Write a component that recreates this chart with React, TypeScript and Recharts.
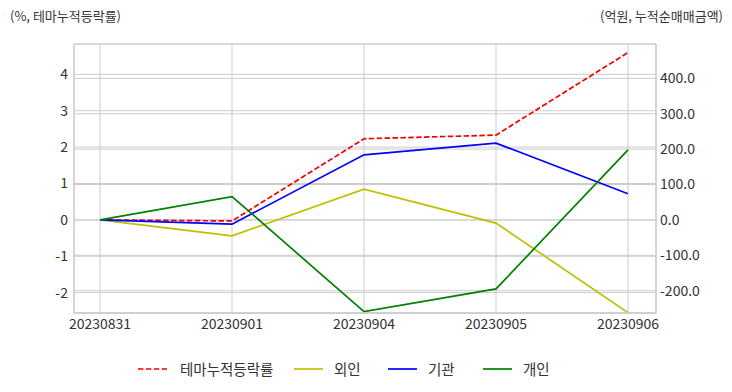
import React from 'react';
import { LineChart, Line, XAxis, YAxis, CartesianGrid } from 'recharts';

const dates = ['20230831', '20230901', '20230904', '20230905', '20230906'];
const themeReturn = [0, -0.03, 2.23, 2.33, 4.6];
const foreign = [0, -45, 87, -9, -262];
const institution = [0, -12, 184, 217, 74];
const individual = [0, 66, -259, -195, 198];

const leftTicks = [-2, -1, 0, 1, 2, 3, 4];
const rightTicks = [-200, -100, 0, 100, 200, 300, 400];

const seriesNames = ['테마누적등락률', '외인', '기관', '개인'];
const colors = ['#ee0000', '#bfbf00', '#0000ff', '#008000'];

const data = dates.map((d, i) => ({
  date: d,
  theme: themeReturn[i],
  foreign: foreign[i],
  institution: institution[i],
  individual: individual[i],
}));

const FONT = '"Noto Sans CJK KR", "Noto Sans", sans-serif';
const tickStyle = { fill: '#333', fontSize: 14, fontFamily: FONT };
const frame = '#cccccc';

const legendLineX = [138, 294, 388, 483];
const legendTextX = [180, 334, 428, 523];

export default function App() {
  return (
    <div style={{ position: 'absolute', left: 0, top: 0, width: 732, height: 392, fontFamily: FONT, background: '#fff' }}>
      <LineChart width={732} height={392} data={data} margin={{ top: 44, right: 0, bottom: 49, left: 8 }}>
        <CartesianGrid yAxisId="left" stroke={frame} strokeWidth={1} horizontal vertical />
        <CartesianGrid yAxisId="right" stroke={frame} strokeWidth={1} horizontal vertical={false} />
        <XAxis
          dataKey="date"
          type="category"
          padding={{ left: 26, right: 28 }}
          height={30}
          tickLine={false}
          tickSize={3}
          tickMargin={3}
          axisLine={{ stroke: frame, strokeWidth: 1.3 }}
          tick={tickStyle}
          interval={0}
        />
        <XAxis
          xAxisId="top"
          dataKey="date"
          orientation="top"
          height={0}
          tick={false}
          tickLine={false}
          axisLine={{ stroke: frame, strokeWidth: 1.3 }}
        />
        <YAxis
          yAxisId="left"
          width={66}
          domain={[-2.56, 4.835]}
          allowDataOverflow
          ticks={leftTicks}
          tickLine={false}
          tickSize={4}
          tickMargin={2}
          axisLine={{ stroke: frame, strokeWidth: 1.3 }}
          tick={tickStyle}
        />
        <YAxis
          yAxisId="right"
          orientation="right"
          width={76}
          domain={[-263, 497]}
          allowDataOverflow
          ticks={rightTicks}
          tickFormatter={(v: number) => v.toFixed(1)}
          tickLine={false}
          tickSize={2}
          tickMargin={2}
          axisLine={{ stroke: frame, strokeWidth: 1.3 }}
          tick={{ ...tickStyle, textAnchor: 'start' }}
        />
        <Line yAxisId="left" dataKey="theme" name={seriesNames[0]} stroke={colors[0]} strokeWidth={1.7} strokeDasharray="5.5 2.4" dot={false} isAnimationActive={false} type="linear" />
        <Line yAxisId="right" dataKey="foreign" name={seriesNames[1]} stroke={colors[1]} strokeWidth={1.7} dot={false} isAnimationActive={false} type="linear" />
        <Line yAxisId="right" dataKey="institution" name={seriesNames[2]} stroke={colors[2]} strokeWidth={1.7} dot={false} isAnimationActive={false} type="linear" />
        <Line yAxisId="right" dataKey="individual" name={seriesNames[3]} stroke={colors[3]} strokeWidth={1.7} dot={false} isAnimationActive={false} type="linear" />
      </LineChart>
      <div style={{ position: 'absolute', left: 10, top: 6, fontSize: 13, color: '#333', whiteSpace: 'nowrap' }}>(%, 테마누적등락률)</div>
      <div style={{ position: 'absolute', right: 9, top: 6, fontSize: 13, color: '#333', whiteSpace: 'nowrap' }}>(억원, 누적순매매금액)</div>
      {seriesNames.map((n, i) => (
        <React.Fragment key={n}>
          <svg style={{ position: 'absolute', left: legendLineX[i], top: 364 }} width={30} height={10}>
            <line x1={0} y1={5} x2={29} y2={5} stroke={colors[i]} strokeWidth={1.7} strokeDasharray={i === 0 ? '5.5 2.4' : undefined} />
          </svg>
          <div style={{ position: 'absolute', left: legendTextX[i], top: 359, fontSize: 14.5, color: '#333', whiteSpace: 'nowrap', lineHeight: '20px' }}>{n}</div>
        </React.Fragment>
      ))}
    </div>
  );
}
